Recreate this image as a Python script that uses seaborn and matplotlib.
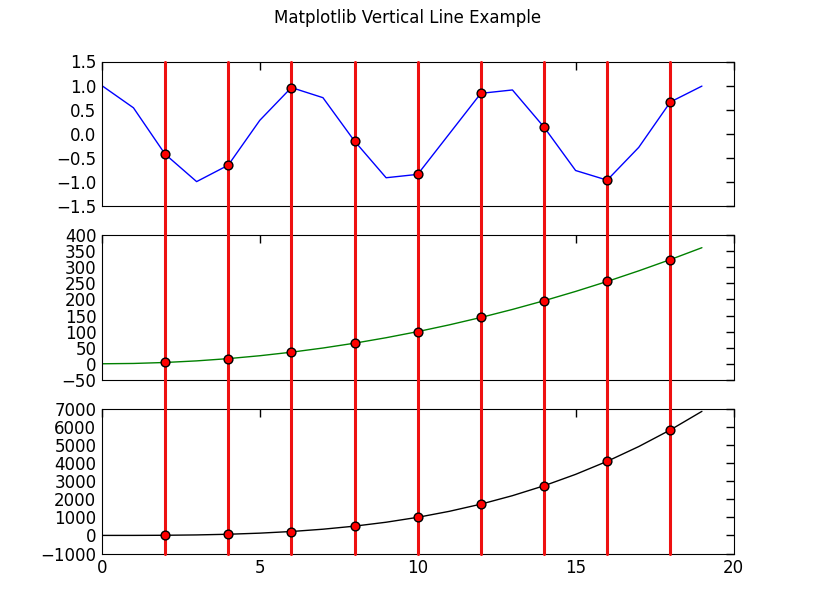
import numpy as np
import pandas as pd
import matplotlib
matplotlib.use('Agg')
import matplotlib.pyplot as plt
import seaborn as sns

# Data
x = list(range(20))
y_cos = [1.00, 0.54, -0.42, -0.99, -0.65, 0.28, 0.96, 0.75, -0.15, -0.91,
         -0.84, 0.00, 0.84, 0.91, 0.14, -0.76, -0.96, -0.28, 0.66, 0.99]
y_sq = [0, 1, 4, 9, 16, 25, 36, 49, 64, 81,
        100, 121, 144, 169, 196, 225, 256, 289, 324, 361]
y_cube = [0, 1, 8, 27, 64, 125, 216, 343, 512, 729,
          1000, 1331, 1728, 2197, 2744, 3375, 4096, 4913, 5832, 6859]
vlines_x = [2, 4, 6, 8, 10, 12, 14, 16, 18]

series = [(y_cos, '#0000ff', (-1.5, 1.5), [-1.5, -1.0, -0.5, 0.0, 0.5, 1.0, 1.5]),
          (y_sq, '#008000', (-50, 400), [-50, 0, 50, 100, 150, 200, 250, 300, 350, 400]),
          (y_cube, '#000000', (-1000, 7000), [-1000, 0, 1000, 2000, 3000, 4000, 5000, 6000, 7000])]

sns.set_style('white', {'xtick.direction': 'in', 'ytick.direction': 'in',
                        'axes.edgecolor': 'black', 'axes.linewidth': 1.0,
                        'text.color': 'black', 'xtick.color': 'black', 'ytick.color': 'black'})
plt.rcParams['font.family'] = ['DejaVu Sans']
plt.rcParams['font.size'] = 12

fig, axs = plt.subplots(3, 1, figsize=(8.15, 6.15), dpi=100, sharex=True)
fig.subplots_adjust(left=0.125, right=0.9, top=0.9, bottom=0.1, hspace=0.2)

for i, (ax, (yv, col, ylim, yticks)) in enumerate(zip(axs, series)):
    df = pd.DataFrame({'x': x, 'y': yv})
    sns.lineplot(data=df, x='x', y='y', ax=ax, color=col, linewidth=1)
    # points where the red lines meet the curve
    pts = df[df['x'].isin(vlines_x)]
    ymin = -0.2 if i < 2 else 0
    for xv in vlines_x:
        ax.axvline(xv, ymin=ymin, ymax=1, color='#ee1111', linewidth=2.2,
                   clip_on=False, zorder=3)
    sns.scatterplot(data=pts, x='x', y='y', ax=ax, color='red', edgecolor='black',
                    linewidth=1, s=40, zorder=4, clip_on=False)
    ax.set_xlim(0, 20)
    ax.set_ylim(*ylim)
    ax.set_yticks(yticks)
    ax.set_xticks([0, 5, 10, 15, 20])
    ax.set_xlabel('')
    ax.set_ylabel('')
    ax.tick_params(direction='in', top=True, right=True, length=6, width=1,
                   labelsize=12, pad=4, colors='black')
    for sp in ax.spines.values():
        sp.set_visible(True)
        sp.set_color('black')

axs[0].set_yticklabels(['\u22121.5', '\u22121.0', '\u22120.5', '0.0', '0.5', '1.0', '1.5'])
fig.suptitle('Matplotlib Vertical Line Example', fontsize=12, y=0.985, color='black')

fig.savefig('out.png', dpi=100)
